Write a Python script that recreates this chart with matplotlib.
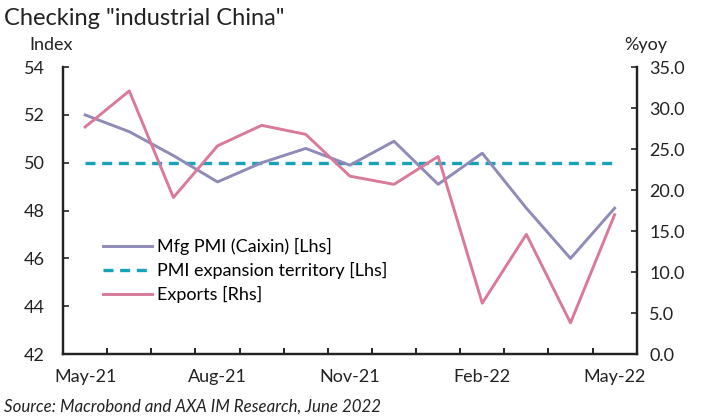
import matplotlib
matplotlib.use("Agg")
import matplotlib.pyplot as plt
import numpy as np

# Data
months = ["May-21", "Jun-21", "Jul-21", "Aug-21", "Sep-21", "Oct-21", "Nov-21",
          "Dec-21", "Jan-22", "Feb-22", "Mar-22", "Apr-22", "May-22"]
pmi = [52.0, 51.3, 50.3, 49.2, 50.0, 50.6, 49.9, 50.9, 49.1, 50.4, 48.1, 46.0, 48.1]
pmi_threshold = 50.0
exports = [27.7, 32.1, 19.1, 25.4, 27.9, 26.8, 21.7, 20.7, 24.1, 6.2, 14.6, 3.8, 17.0]

left_ticks = [42, 44, 46, 48, 50, 52, 54]
right_ticks = [0, 5, 10, 15, 20, 25, 30, 35]
label_every = 3

plt.rcParams['font.family'] = ['Lato', 'DejaVu Sans']
text_color = '#222222'
fs = 13

fig = plt.figure(figsize=(7.09, 4.17), dpi=100)
ax = fig.add_axes([0.089, 0.151, 0.809, 0.688])
ax2 = ax.twinx()

x = np.arange(len(months))

ax.plot(x, pmi, color='#8e8bb8', linewidth=2.1, label='Mfg PMI (Caixin) [Lhs]', zorder=3)
ax.plot(x, [pmi_threshold] * len(x), color='#17a2b8', linewidth=2.4,
        linestyle=(0, (3, 2)), label='PMI expansion territory [Lhs]', zorder=2)
ax2.plot(x, exports, color='#d97a9b', linewidth=2.1, label='Exports [Rhs]')

ax.set_xlim(-0.5, len(months) - 0.5)
ax.set_ylim(42, 54)
ax2.set_ylim(0, 35)
ax.set_yticks(left_ticks)
ax2.set_yticks(right_ticks)
ax2.set_yticklabels([f'{v:.1f}' for v in right_ticks])

ax.set_xticks(x[::label_every])
ax.set_xticklabels(months[::label_every])
ax.set_xticks(np.arange(0.5, len(months) - 1, 1.0), minor=True)
ax.tick_params(axis='x', which='major', length=0, pad=11, labelsize=fs, colors=text_color)
ax.tick_params(axis='x', which='minor', direction='in', length=4, width=1.2)
ax.tick_params(axis='y', direction='in', length=4, width=1.2, labelsize=fs,
               colors=text_color, pad=13)
ax2.tick_params(axis='y', direction='in', length=4, width=1.2, labelsize=fs,
                colors=text_color, pad=9)

for a in (ax, ax2):
    a.spines['top'].set_visible(False)
    for s in ('left', 'right', 'bottom'):
        a.spines[s].set_linewidth(1.6)
        a.spines[s].set_color('#222222')

# Legend combining both axes
h1, l1 = ax.get_legend_handles_labels()
h2, l2 = ax2.get_legend_handles_labels()
ax2.legend(h1 + h2, l1 + l2, loc='upper left', bbox_to_anchor=(0.07, 0.405),
           frameon=False, fontsize=fs, handlelength=2.7, handletextpad=0.28,
           labelspacing=0.4, borderaxespad=0, borderpad=0)

fig.text(0.006, 0.955, 'Checking "industrial China"', fontsize=17, color=text_color,
         va='center', ha='left')
fig.text(0.041, 0.893, 'Index', fontsize=fs, color=text_color, va='center', ha='left')
fig.text(0.881, 0.893, '%yoy', fontsize=fs, color=text_color, va='center', ha='left')
fig.text(0.006, 0.024, 'Source: Macrobond and AXA IM Research, June 2022', fontsize=12.2,
         style='italic', color=text_color, va='center', ha='left')

fig.savefig('out.png', dpi=100, facecolor='white')
